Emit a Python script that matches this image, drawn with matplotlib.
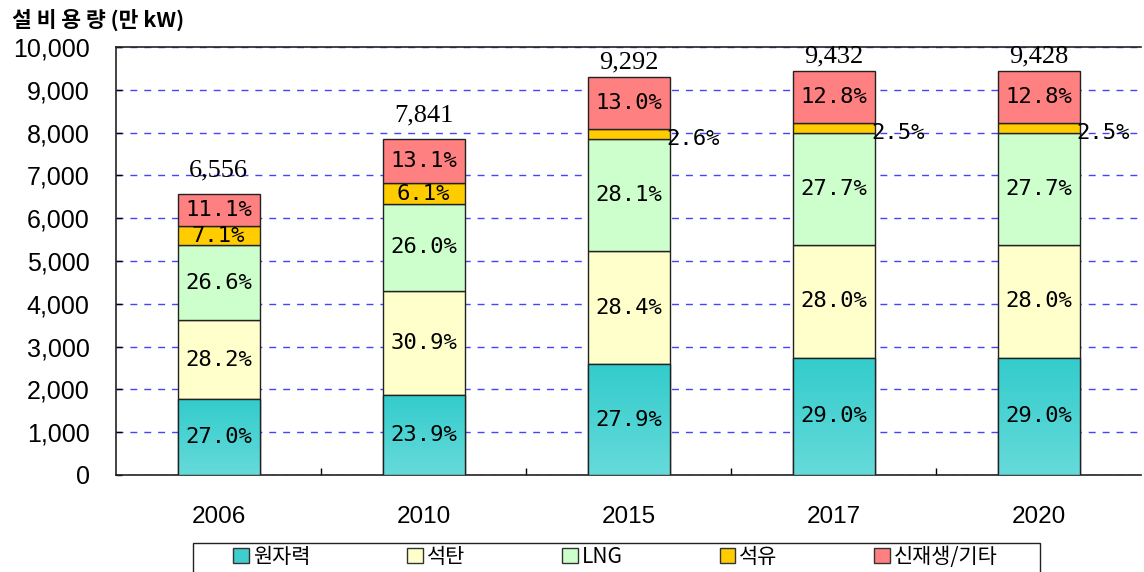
import numpy as np
import matplotlib
matplotlib.use('Agg')
import matplotlib.pyplot as plt
from matplotlib.patches import Patch, Rectangle
from matplotlib.colors import LinearSegmentedColormap


years = ['2006', '2010', '2015', '2017', '2020']
totals = [6556, 7841, 9292, 9432, 9428]

# share of each source in total capacity (%)
nuclear = [27.0, 23.9, 27.9, 29.0, 29.0]
coal = [28.2, 30.9, 28.4, 28.0, 28.0]
lng = [26.6, 26.0, 28.1, 27.7, 27.7]
oil = [7.1, 6.1, 2.6, 2.5, 2.5]
renew = [11.1, 13.1, 13.0, 12.8, 12.8]

series_names = ['원자력', '석탄', 'LNG', '석유', '신재생/기타']
series_pct = [nuclear, coal, lng, oil, renew]
series_colors = ['#44CFCF', '#FFFFCC', '#CCFFCC', '#FFCC00', '#FF8080']

y_ticks = [0, 1000, 2000, 3000, 4000, 5000, 6000, 7000, 8000, 9000, 10000]

KR = ['Noto Sans CJK KR', 'DejaVu Sans']

fig = plt.figure(figsize=(11.44, 5.72), dpi=100)
ax = fig.add_axes([0.1014, 0.1696, 0.896, 0.7482])

x = np.arange(len(years))
width = 0.4
bottom = np.zeros(len(years))
teal_cmap = LinearSegmentedColormap.from_list('teal', ['#33CCCC', '#66DADA'])

for name, pct, color in zip(series_names, series_pct, series_colors):
    values = np.array(totals) * np.array(pct) / 100.0
    bars = ax.bar(x, values, width, bottom=bottom, color=color,
                  edgecolor='#222222', linewidth=1.0, zorder=3)
    if name == '원자력':
        # vertical gradient fill like the source chart
        for b in bars:
            grad = np.linspace(0, 1, 100).reshape(-1, 1)
            im = ax.imshow(grad, cmap=teal_cmap, aspect='auto', origin='upper',
                           extent=[b.get_x(), b.get_x() + b.get_width(),
                                   b.get_y(), b.get_y() + b.get_height()],
                           zorder=3.5)
            im.set_clip_path(b)
            ax.add_patch(Rectangle((b.get_x(), b.get_y()), b.get_width(), b.get_height(),
                                   fill=False, edgecolor='#222222', linewidth=1.0, zorder=4))
    for i, (v, p) in enumerate(zip(values, pct)):
        label = f'{p:.1f}%'
        if p >= 4:
            ax.text(x[i], bottom[i] + v / 2, label, ha='center', va='center',
                    fontsize=16, family='DejaVu Sans Mono', zorder=5)
        else:
            ax.text(x[i] + width / 2 - 0.015, bottom[i] + v / 2 - 120, label,
                    ha='left', va='center', fontsize=16, family='DejaVu Sans Mono', zorder=5)
    bottom += values

for i, t in enumerate(totals):
    # labels of the tallest bars sit closer, squeezed under the top border
    off = 9 if t < 9000 else 3
    ax.annotate(f'{t:,}', (x[i], t), xytext=(0, off), textcoords='offset points',
                ha='center', va='bottom', fontsize=19, family='Liberation Serif')

ax.set_xlim(-0.5, 4.5)
ax.set_ylim(0, 10000)
ax.set_yticks(y_ticks)
ax.set_yticklabels([f'{v:,}' for v in y_ticks], family='Liberation Sans', fontsize=18)
ax.set_xticks(x)
ax.set_xticklabels(years, family='Liberation Sans', fontsize=17.5)
ax.set_xticks(np.arange(0.5, 4.5, 1), minor=True)
ax.tick_params(axis='x', which='major', length=0, pad=22)
ax.tick_params(axis='x', which='minor', direction='in', length=5, width=1)
ax.tick_params(axis='y', direction='in', length=4, width=1, pad=19)

ax.yaxis.grid(True, color='#4444FF', linestyle=(0, (5, 5)), linewidth=1, zorder=1)
ax.set_axisbelow(True)
ax.spines['right'].set_visible(False)
for s in ['left', 'bottom', 'top']:
    ax.spines[s].set_color('#222222')
    ax.spines[s].set_linewidth(1.2)

fig.text(0.0105, 0.965, '설 비 용 량 (만 kW)', family=KR, fontsize=15.5, fontweight='bold',
         ha='left', va='center')

handles = [Patch(facecolor=c, edgecolor='#333333', linewidth=1) for c in series_colors]
handles[0] = Patch(facecolor='#3FCDCD', edgecolor='#333333', linewidth=1)
leg = fig.legend(handles, series_names, loc='upper left', bbox_to_anchor=(233 / 1144, 1 - 546 / 572),
                 ncol=5, prop={'family': KR, 'size': 15}, frameon=False,
                 handlelength=0.75, handleheight=0.75, handletextpad=0.2,
                 columnspacing=4.65, borderaxespad=0, borderpad=0)
# legend frame runs off the bottom of the figure, as in the source image
fig.patches.append(Rectangle((193 / 1144, -0.05), (1040 - 193) / 1144, 0.05 + 1 - 543 / 572,
                             transform=fig.transFigure, fill=False, edgecolor='#222222',
                             linewidth=1.0))

fig.savefig('out.png', dpi=100)
plt.close(fig)
